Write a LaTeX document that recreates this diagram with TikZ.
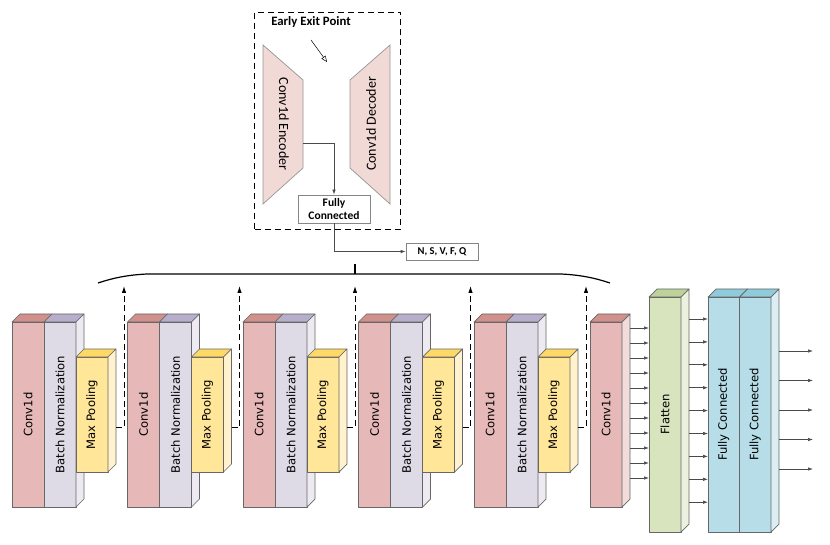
\documentclass[tikz,border=0pt]{standalone}
\usepackage{fontspec}
\usepackage{xcolor}
\usepackage{tikz}
\usetikzlibrary{arrows.meta}

\newfontfamily\blockfont{DejaVu Sans}
\newfontfamily\exitfont{Carlito}

\definecolor{edge}{HTML}{676767}
\definecolor{wire}{HTML}{4A4A4A}
\definecolor{convfront}{HTML}{E6B9B8}
\definecolor{convtop}{HTML}{D0908B}
\definecolor{convside}{HTML}{F2DCDB}
\definecolor{bnfront}{HTML}{DEDAE6}
\definecolor{bntop}{HTML}{B7AECB}
\definecolor{bnside}{HTML}{EDEBF1}
\definecolor{mpfront}{HTML}{FFE699}
\definecolor{mptop}{HTML}{FFD965}
\definecolor{mpside}{HTML}{FFF2CC}
\definecolor{flatfront}{HTML}{D7E4BD}
\definecolor{flattop}{HTML}{BFD19A}
\definecolor{flatside}{HTML}{EBF1DE}
\definecolor{fcfront}{HTML}{B7DEE8}
\definecolor{fctop}{HTML}{8FCBDB}
\definecolor{fcside}{HTML}{DAEEF3}
\definecolor{trapfill}{HTML}{F1D9D6}

\begin{document}
\begin{tikzpicture}[x=1pt,y=-1pt]
\tikzstyle{face}=[draw=edge, line width=0.7pt, line join=round]
\tikzstyle{front}=
[
	face, rectangle, inner sep=0pt, outer sep=0pt,
	anchor=north west, minimum width=32pt
]
\tikzstyle{conv}=[front, fill=convfront, minimum height=185pt]
\tikzstyle{bn}=[front, fill=bnfront, minimum height=185pt]
\tikzstyle{mp}=[front, fill=mpfront, minimum height=115pt]
\tikzstyle{tall}=[front, minimum height=235pt]
\tikzstyle{vtext}=[rotate=90, font=\blockfont\fontsize{11.6}{13}\selectfont]
\tikzstyle{exit}=[draw=black, dashed, dash pattern=on 6pt off 3.5pt, line width=0.9pt, -{Latex[length=7pt,width=4.5pt]}]
\tikzstyle{link}=[draw=wire, line width=0.7pt, -{Latex[length=5pt,width=3.5pt]}]
\tikzstyle{brace}=[draw=black, line width=1.2pt]
\tikzstyle{trap}=[draw=edge!70, line width=0.7pt, fill=trapfill]
\tikzstyle{smallbox}=[draw=edge!80, line width=0.7pt, inner sep=1pt, align=center]

\useasboundingbox (0,0) rectangle (830,545);

% early exit branch
\node[draw=black, dashed, dash pattern=on 6pt off 4pt, line width=1pt, anchor=north west,
	minimum width=146pt, minimum height=217pt] (exitbox) at (254,12) {};
\node[font=\exitfont\bfseries\fontsize{12.8}{14}\selectfont] (exitlabel) at (311,22) {Early Exit Point};
\coordinate (exitpt) at (327,62);
\draw[line width=0.5pt, -{Triangle[open,length=6pt,width=5pt]}] ([yshift=-9pt]exitlabel.south) -- (exitpt);

\draw[trap] (263,45) -- (303,80) -- (303,168) -- (263,204) -- cycle;
\draw[trap] (350,80) -- (390,45) -- (390,204) -- (350,168) -- cycle;
\node[rotate=-90, font=\exitfont\fontsize{14}{16}\selectfont] (enc) at (284,124) {Conv1d Encoder};
\node[rotate=90, font=\exitfont\fontsize{14}{16}\selectfont] (dec) at (371,124) {Conv1d Decoder};
\coordinate (encout) at (303,143);

\node[smallbox, minimum width=72pt, minimum height=28pt,
	font=\exitfont\bfseries\fontsize{11.5}{12.5}\selectfont] (fcexit) at (334,209) {Fully\\Connected};
\node[smallbox, minimum width=72pt, minimum height=17pt,
	font=\exitfont\bfseries\fontsize{10.5}{12}\selectfont] (classes) at (442,251.5) {N, S, V, F, Q};
\draw[link] (encout) -| (fcexit.north);
\draw[link] (fcexit.south) |- (classes.west);

% brace over the exit points
\coordinate (join) at (355,274);
\draw[brace] (98,283) .. controls (113,278) and (127,275) .. (147,274) -- (join)
	-- (561,274) .. controls (581,275) and (595,278) .. (610,283);
\draw[brace] (join) -- ++(0,-10);

% conv / bn / pooling blocks
\foreach \i/\x in {1/12,2/127.5,3/243,4/358.5,5/474}
{
	\node[conv] (conv\i) at (\x,322) {};
	\node[bn] (bn\i) at (\x+32,322) {};
	\draw[face, fill=convtop] (conv\i.north west) -- ++(8,-8) -- ++(32,0) -- (conv\i.north east) -- cycle;
	\draw[face, fill=bntop] (bn\i.north west) -- ++(8,-8) -- ++(32,0) -- (bn\i.north east) -- cycle;
	\draw[face, fill=bnside] (bn\i.north east) -- ++(8,-8) -- ++(0,185) -- (bn\i.south east) -- cycle;
	\node[mp] (mp\i) at (\x+64,357) {};
	\draw[face, fill=mptop] (mp\i.north west) -- ++(8,-8) -- ++(32,0) -- (mp\i.north east) -- cycle;
	\draw[face, fill=mpside] (mp\i.north east) -- ++(8,-8) -- ++(0,115) -- (mp\i.south east) -- cycle;
	\node[vtext] at (conv\i) {Conv1d};
	\node[vtext] at (bn\i) {Batch Normalization};
	\node[vtext] at (mp\i) {Max Pooling};
	\coordinate (tip\i) at (\x+112,286);
	\draw[exit] ([xshift=8pt,yshift=45pt]mp\i.south east) -| (tip\i);
}

% last conv, flatten, fully connected
\node[conv] (conv6) at (590,322) {};
\draw[face, fill=convtop] (conv6.north west) -- ++(8,-8) -- ++(32,0) -- (conv6.north east) -- cycle;
\draw[face, fill=convside] (conv6.north east) -- ++(8,-8) -- ++(0,185) -- (conv6.south east) -- cycle;
\node[vtext] at (conv6) {Conv1d};

\node[tall, fill=flatfront] (flat) at (649,297) {};
\draw[face, fill=flattop] (flat.north west) -- ++(8,-8) -- ++(32,0) -- (flat.north east) -- cycle;
\draw[face, fill=flatside] (flat.north east) -- ++(8,-8) -- ++(0,235) -- (flat.south east) -- cycle;
\node[vtext] at (flat) {Flatten};

\node[tall, fill=fcfront, minimum width=31.5pt] (fca) at (708,297) {};
\node[tall, fill=fcfront, minimum width=31.5pt] (fcb) at (739.5,297) {};
\draw[face, fill=fctop] (fca.north west) -- ++(8,-8) -- ++(31.5,0) -- (fca.north east) -- cycle;
\draw[face, fill=fctop] (fcb.north west) -- ++(8,-8) -- ++(31.5,0) -- (fcb.north east) -- cycle;
\draw[face, fill=fcside] (fcb.north east) -- ++(8,-8) -- ++(0,235) -- (fcb.south east) -- cycle;
\node[vtext] at (fca) {Fully Connected};
\node[vtext] at (fcb) {Fully Connected};

\coordinate (c6side) at ([xshift=8pt]conv6.east);
\coordinate (flatside) at ([xshift=8pt]flat.east);
\coordinate (fcside) at ([xshift=8pt]fcb.east);
\foreach \k in {0,...,10}
	\draw[link] (c6side |- 0,328+15*\k) -- (flat.west |- 0,328+15*\k);
\foreach \k in {0,...,8}
	\draw[link] (flatside |- 0,319+22.9*\k) -- (fca.west |- 0,319+22.9*\k);
\foreach \k in {0,...,4}
	\draw[link] (fcside |- 0,351+29.5*\k) -- (813,351+29.5*\k);
\end{tikzpicture}
\end{document}
